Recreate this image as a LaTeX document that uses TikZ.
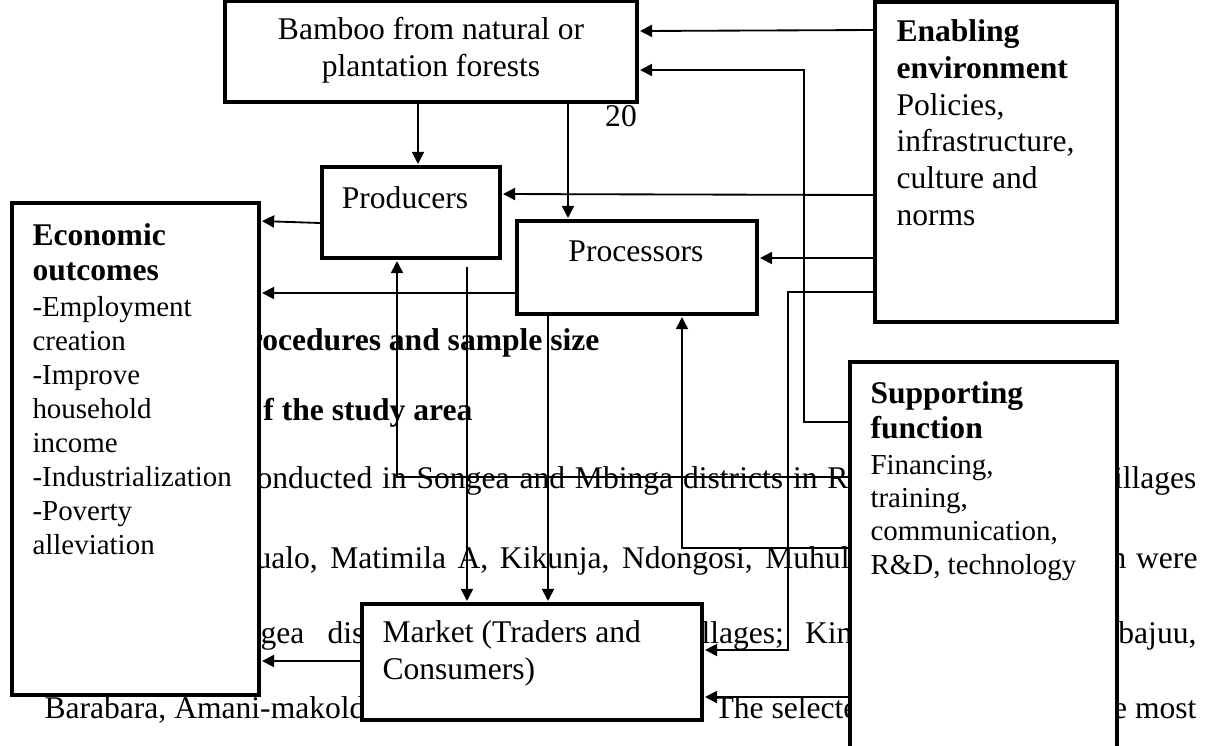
\documentclass[tikz,border=0pt]{standalone}
\usepackage{fontspec}
\setmainfont{Liberation Serif}
\usetikzlibrary{arrows.meta, positioning, fit}

\newlength{\pxunit}
\setlength{\pxunit}{0.38pt}
\newcommand{\spreadline}[2]{\makebox[#1\pxunit][s]{#2}}

\begin{document}
\begin{tikzpicture}[
    x=0.38pt, y=-0.38pt,
    box/.style={draw, line width=1.3pt, fill=white, inner sep=0pt},
    boxtext/.style={font=\fontsize{12}{13.7}\selectfont, align=left, inner sep=0pt, anchor=base west},
    boxhead/.style={boxtext, font=\fontsize{12}{13.3}\selectfont\bfseries},
    boxsmall/.style={boxtext, font=\fontsize{11}{12.8}\selectfont},
    pagetext/.style={font=\fontsize{12}{13.8}\selectfont, inner sep=0pt, anchor=base west},
    pagebold/.style={pagetext, font=\fontsize{12}{13.8}\selectfont\bfseries},
    flow/.style={line width=0.7pt, shorten >=0.5pt, -{Triangle[length=4.6pt, width=4.6pt]}}
]
\useasboundingbox (0,0) rectangle (1212,745);

% Page text behind the figure
\node[pagebold, anchor=base east] (pa) at (600,350) {rocedures and sample size};
\node[pagebold, anchor=base east] (pb) at (473,420) {f the study area};
\node[pagetext] (pc) at (256,488) {\spreadline{592}{onducted in Songea and Mbinga districts in R}};
\node[pagetext, anchor=base east] (pc2) at (1197,488) {illages};
\node[pagetext] (pd) at (255,568) {\spreadline{594}{ualo, Matimila A, Kikunja, Ndongosi, Muhul}};
\node[pagetext] (pd2) at (1110,568) {\spreadline{87}{n were}};
\node[pagetext] (pe) at (260,643) {\spreadline{104}{gea dis}};
\node[pagetext] (pe2) at (701,643) {\spreadline{151}{llages; Kin}};
\node[pagetext, anchor=base east] (pe3) at (1197,643) {bajuu,};
\node[pagetext] (pf) at (44,718) {Barabara, Amani-makold};
\node[pagetext] (pf2) at (714,718) {The selecte};
\node[pagetext, anchor=base east] (pf3) at (1197,718) {e most};
\node[pagetext, anchor=base] (pgnum) at (621,126) {20};

% Boxes
\node[box, fit={(225,1.5) (637,102)}] (bamboo) {};
\node[box, fit={(875,2) (1117,322)}] (enab) {};
\node[box, fit={(322,167) (500,258)}] (prod) {};
\node[box, fit={(517,221) (757,314)}] (proc) {};
\node[box, fit={(12,203) (259,695)}] (econ) {};
\node[box, fit={(362,604) (702,720)}] (market) {};
\node[box, fit={(850,362) (1117,770)}] (supp) {};

% Box texts (placed at the baseline of their last line)
\node[boxtext, anchor=base, align=center] (bambootxt) at (431,76) {Bamboo from natural or\\plantation forests};
\node[boxtext, anchor=base] (prodtxt) at (405,208) {Producers};
\node[boxtext, anchor=base] (proctxt) at (636,261) {Processors};
\node[boxtext] (markettxt) at (382,679) {Market (Traders and\\Consumers)};
\node[boxhead] (econhead) at (32,280) {Economic\\outcomes};
\node[boxsmall, font=\fontsize{11}{12.9}\selectfont] (econtxt) at (32,554) {-Employment\\creation\\-Improve\\household\\income\\-Industrialization\\-Poverty\\alleviation};
\node[boxhead, font=\fontsize{12}{13.9}\selectfont\bfseries] (enabhead) at (896,78) {Enabling\\environment};
\node[boxtext, font=\fontsize{12}{13.9}\selectfont] (enabtxt) at (896,225) {Policies,\\infrastructure,\\culture and\\norms};
\node[boxhead] (supphead) at (870,438) {Supporting\\function};
\node[boxsmall, font=\fontsize{11}{12.65}\selectfont] (supptxt) at (870,574) {Financing,\\training,\\communication,\\R\&D, technology};

% Flows from the resource
\draw[flow] (bamboo.south -| 418,0) -- (prod.north -| 418,0);
\draw[flow] (bamboo.south -| 568,0) -- (proc.north -| 568,0);

% Enabling environment
\draw[flow] (enab.west |- 0,30) -- (bamboo.east |- 0,31);
\draw[flow] (enab.west |- 0,195) -- (prod.east |- 0,194);
\draw[flow] (enab.west |- 0,258) -- (proc.east |- 0,258);
\draw[flow] (enab.west |- 0,292) -- (788,292) |- (market.east |- 0,650);

% Supporting function
\draw[flow] (supp.west |- 0,422) -- (804,422) |- (bamboo.east |- 0,70);
\draw[flow] (supp.west |- 0,477) -| (prod.south -| 397,0);
\draw[flow] (supp.west |- 0,548) -| (proc.south -| 682,0);
\draw[flow] (supp.west |- 0,697) -- (market.east |- 0,697);

% To the market
\coordinate (prodout) at (467,267);
\draw[flow] (prodout) -- (market.north -| prodout);
\draw[flow] (proc.south -| 548,0) -- (market.north -| 548,0);

% Economic outcomes
\draw[flow] (prod.west |- 0,223) -- (econ.east |- 0,221);
\draw[flow] (proc.west |- 0,293) -- (econ.east |- 0,293);
\draw[flow] (market.west |- 0,661) -- (econ.east |- 0,661);

\end{tikzpicture}
\end{document}
